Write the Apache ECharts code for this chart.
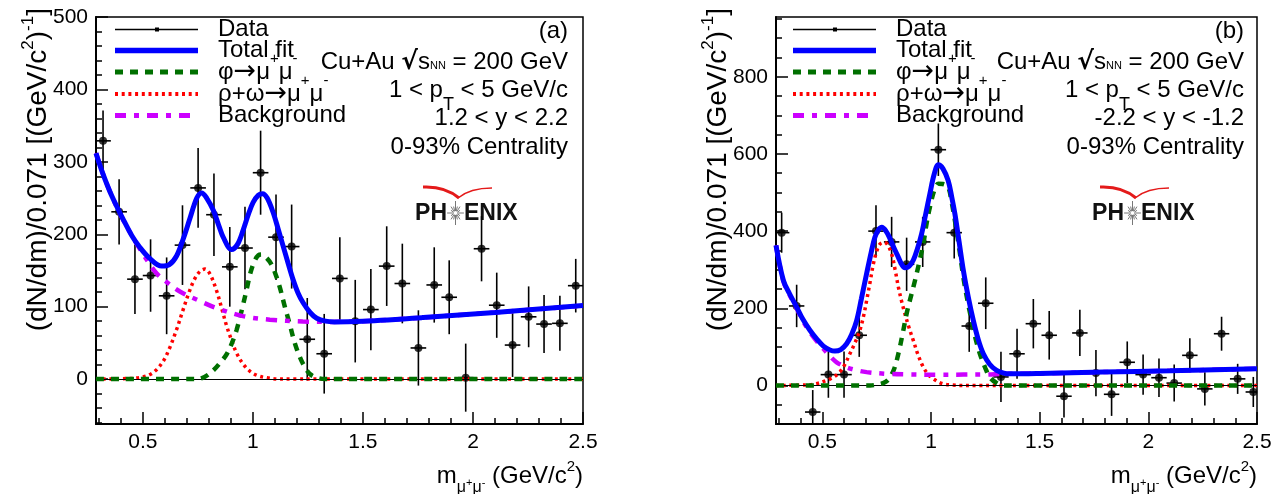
<!DOCTYPE html>
<html>
<head>
<meta charset="utf-8">
<script src="https://cdn.jsdelivr.net/npm/echarts@6/dist/echarts.min.js"></script>
<style>
  html, body { margin: 0; padding: 0; background: #fff; }
  #chart { width: 1287px; height: 494px; }
</style>
</head>
<body>
<div id="chart"></div>
<script>
const FONT = '"Liberation Sans", Arial, Helvetica, sans-serif';
const FONT_SYM = '"DejaVu Sans", "Liberation Sans", sans-serif';

// ---- axes ----
const X_MIN = 0.287, X_MAX = 2.5;
const X_MAJOR = [0.5, 1, 1.5, 2, 2.5];
const X_MINOR = [0.3, 0.4, 0.6, 0.7, 0.8, 0.9, 1.1, 1.2, 1.3, 1.4, 1.6, 1.7, 1.8, 1.9, 2.1, 2.2, 2.3, 2.4];

const LEFT_Y_MIN = -62, LEFT_Y_MAX = 500;
const LEFT_Y_MAJOR = [0, 100, 200, 300, 400, 500];
const LEFT_Y_MINOR = [-60, -40, -20, 20, 40, 60, 80, 120, 140, 160, 180, 220, 240, 260, 280, 320, 340, 360, 380, 420, 440, 460, 480];

const RIGHT_Y_MIN = -100, RIGHT_Y_MAX = 955;
const RIGHT_Y_MAJOR = [0, 200, 400, 600, 800];
const RIGHT_Y_MINOR = [-50, 50, 100, 150, 250, 300, 350, 450, 500, 550, 650, 700, 750, 850, 900, 950];

// half bin width used for the horizontal error bars
const BIN_HALF = 0.0355;

// ---- panel (a): 1.2 < y < 2.2 ----
const LEFT_MASS = [0.319, 0.392, 0.464, 0.535, 0.608, 0.680, 0.751, 0.823, 0.895, 0.964, 1.035, 1.105, 1.176, 1.247, 1.324, 1.395, 1.465, 1.536, 1.608, 1.679, 1.752, 1.824, 1.892, 1.967, 2.039, 2.108, 2.180, 2.253, 2.323, 2.395, 2.467];
const LEFT_COUNTS = [329, 231, 138, 143, 115, 185, 264, 227, 155, 181, 285, 196, 183, 55, 35, 139, 80, 96, 156, 132, 43, 130, 113, 2, 180, 102, 47, 86, 76, 77, 129];
const LEFT_ERR = [42, 45, 48, 50, 53, 55, 55, 57, 55, 57, 58, 59, 58, 57, 55, 57, 57, 56, 55, 55, 52, 52, 51, 47, 45, 45, 44, 42, 40, 38, 37];

const LEFT_TOTAL = [[0.287, 312], [0.319, 283], [0.36, 252], [0.41, 221], [0.45, 198], [0.486, 182], [0.53, 167], [0.585, 156], [0.62, 158], [0.653, 170], [0.685, 195], [0.714, 222], [0.745, 250], [0.767, 257], [0.79, 250], [0.82, 233], [0.845, 212], [0.865, 196], [0.903, 179], [0.93, 186], [0.956, 206], [0.98, 228], [1.001, 244], [1.025, 254], [1.044, 256], [1.065, 250], [1.092, 230], [1.115, 207], [1.138, 183], [1.16, 160], [1.183, 137], [1.205, 119], [1.229, 105], [1.26, 92], [1.29, 84], [1.33, 80], [1.37, 79], [1.5, 80], [1.774, 85], [2.1, 92], [2.5, 101.5]];
const LEFT_RHO = [[0.287, 0], [0.45, 1], [0.5, 3], [0.53, 6], [0.562, 13], [0.595, 26], [0.623, 44], [0.655, 70], [0.683, 96], [0.71, 120], [0.735, 138], [0.76, 149], [0.782, 152], [0.805, 145], [0.835, 122], [0.858, 98], [0.88, 74], [0.905, 52], [0.926, 36], [0.955, 21], [0.986, 11], [1.02, 5], [1.06, 2], [1.12, 0], [2.5, 0]];
const LEFT_PHI = [[0.287, 0], [0.74, 0], [0.78, 3], [0.82, 12], [0.85, 22], [0.88, 34], [0.905, 50], [0.926, 68], [0.95, 96], [0.971, 123], [0.99, 148], [1.009, 164], [1.025, 171], [1.04, 172], [1.06, 168], [1.085, 158], [1.105, 143], [1.123, 126], [1.145, 100], [1.168, 75], [1.19, 50], [1.214, 30], [1.237, 16], [1.259, 7], [1.29, 2], [1.33, 0], [2.5, 0]];
const LEFT_BKG = [[0.287, 312], [0.319, 283], [0.36, 252], [0.41, 220], [0.45, 198], [0.486, 180], [0.517, 165], [0.562, 146], [0.608, 134], [0.668, 121], [0.75, 109], [0.835, 98], [0.955, 87], [1.077, 82], [1.227, 79.5], [1.35, 79], [1.5, 80], [1.774, 85], [2.1, 92], [2.5, 101.5]];

// ---- panel (b): -2.2 < y < -1.2 ----
const RIGHT_MASS = [0.313, 0.382, 0.456, 0.528, 0.600, 0.670, 0.747, 0.819, 0.888, 0.962, 1.034, 1.107, 1.176, 1.252, 1.322, 1.396, 1.471, 1.544, 1.612, 1.685, 1.759, 1.831, 1.903, 1.976, 2.049, 2.119, 2.191, 2.260, 2.337, 2.411, 2.483];
const RIGHT_COUNTS = [396, 206, -69, 28, 28, 130, 400, 372, 314, 372, 611, 396, 154, 213, 22, 82, 160, 130, -28, 136, 32, -23, 60, 28, 20, 6, 78, -9, 134, 17, -17];
const RIGHT_ERR = [52, 55, 57, 60, 60, 56, 67, 65, 69, 65, 68, 67, 67, 67, 65, 65, 64, 63, 55, 60, 60, 56, 54, 52, 50, 48, 44, 43, 44, 39, 39];

const RIGHT_TOTAL = [[0.287, 363], [0.321, 272], [0.35, 237], [0.382, 203], [0.41, 172], [0.443, 143], [0.475, 120], [0.505, 102], [0.535, 92], [0.558, 89], [0.585, 93], [0.612, 108], [0.635, 132], [0.658, 168], [0.68, 225], [0.704, 290], [0.725, 345], [0.742, 384], [0.758, 403], [0.774, 410], [0.793, 400], [0.812, 380], [0.83, 356], [0.85, 332], [0.865, 314], [0.88, 305], [0.9, 309], [0.919, 325], [0.938, 355], [0.957, 393], [0.976, 445], [0.995, 497], [1.015, 548], [1.034, 572], [1.055, 562], [1.079, 531], [1.095, 490], [1.11, 445], [1.13, 370], [1.149, 298], [1.172, 228], [1.195, 168], [1.218, 118], [1.241, 82], [1.27, 55], [1.302, 39], [1.335, 32], [1.363, 30], [1.5, 31], [1.792, 34.5], [2.1, 38], [2.5, 43]];
const RIGHT_RHO = [[0.287, 0], [0.42, 1], [0.47, 4], [0.52, 13], [0.55, 21], [0.581, 35], [0.605, 56], [0.627, 82], [0.65, 110], [0.673, 143], [0.69, 180], [0.704, 220], [0.72, 268], [0.735, 315], [0.75, 347], [0.765, 366], [0.785, 371], [0.8, 365], [0.819, 341], [0.835, 300], [0.85, 255], [0.865, 218], [0.88, 186], [0.9, 148], [0.919, 116], [0.94, 80], [0.965, 47], [0.99, 27], [1.011, 17], [1.05, 5], [1.1, 1], [1.15, 0], [2.5, 0]];
const RIGHT_PHI = [[0.287, 0], [0.72, 0], [0.75, 2], [0.78, 6], [0.804, 15], [0.83, 42], [0.85, 82], [0.87, 135], [0.888, 186], [0.905, 225], [0.919, 255], [0.935, 292], [0.949, 326], [0.965, 368], [0.98, 420], [0.995, 462], [1.015, 505], [1.034, 523], [1.055, 522], [1.079, 514], [1.095, 475], [1.11, 428], [1.13, 355], [1.149, 280], [1.168, 220], [1.187, 168], [1.205, 122], [1.225, 82], [1.25, 45], [1.271, 21], [1.3, 7], [1.333, 0], [2.5, 0]];
const RIGHT_BKG = [[0.287, 363], [0.321, 270], [0.35, 234], [0.382, 200], [0.41, 168], [0.443, 138], [0.475, 114], [0.505, 95], [0.535, 76], [0.566, 60], [0.612, 47], [0.66, 39], [0.704, 34.5], [0.796, 30], [0.9, 28.5], [1.026, 27.7], [1.15, 28], [1.256, 28.5], [1.333, 30], [1.5, 31], [1.792, 34.5], [2.1, 38], [2.5, 43]];

// ---- text ----
const LEGEND_LABELS = [
  '{n|Data}',
  '{n|Total fit}',
  '{n|\u03c6}{ar|\u2192}{n|\u03bc}{sup|+}{n|\u03bc}{sup|-}',
  '{n|\u03c1+\u03c9}{ar|\u2192}{n|\u03bc}{sup|+}{n|\u03bc}{sup|-}',
  '{n|Background}'
];
const INFO_LEFT = ['{n|(a)}', '{n|Cu+Au }{sq|\u221a}{n|s}{nn|NN}{n| = 200 GeV}', '{n|1 < p}{sub|T}{n| < 5 GeV/c}', '{n|1.2 < y < 2.2}', '{n|0-93% Centrality}'];
const INFO_RIGHT = ['{n|(b)}', '{n|Cu+Au }{sq|\u221a}{n|s}{nn|NN}{n| = 200 GeV}', '{n|1 < p}{sub|T}{n| < 5 GeV/c}', '{n|-2.2 < y < -1.2}', '{n|0-93% Centrality}'];
const Y_TITLE = '{t|(dN/dm)/0.071 [(GeV/c}{ts|2}{t|)}{ts|-1}{t|]}';
const X_TITLE = '{x|m}{xs|\u03bc}{xss|+}{xs|\u03bc}{xss|-}{x| (GeV/c}{xsup|2}{x|)}';

const COLORS = { total: '#0000ff', phi: '#007000', rho: '#ff0000', bkg: '#cc00ff' };
const STYLES = {
  total: { width: 5, type: 'solid' },
  phi: { width: 4.5, type: [8, 7] },
  rho: { width: 3.5, type: [3, 3.7] },
  bkg: { width: 4.5, type: [11, 8, 5, 8] }
};

const RICH_TEXT = {
  n:   { fontSize: 24, fontFamily: FONT, lineHeight: 30 },
  ar:  { fontSize: 27, fontFamily: FONT_SYM, lineHeight: 30 },
  sup: { fontSize: 15, fontFamily: FONT, lineHeight: 30, padding: [0, 0, 26, 0] },
  sub: { fontSize: 18, fontFamily: FONT, lineHeight: 30, padding: [30, 0, 0, 0] },
  nn:  { fontSize: 11, fontFamily: FONT, lineHeight: 30, padding: [8, 0, 0, 0] },
  sq:  { fontSize: 25, fontFamily: FONT_SYM, fontWeight: 'bold', lineHeight: 30 }
};
const RICH_AXIS = {
  t:    { fontSize: 28, fontFamily: FONT, lineHeight: 34 },
  ts:   { fontSize: 17, fontFamily: FONT, lineHeight: 34, padding: [0, 0, 20, 0] },
  x:    { fontSize: 24, fontFamily: FONT, lineHeight: 30 },
  xs:   { fontSize: 16, fontFamily: FONT, lineHeight: 30, padding: [24, 0, 0, 0] },
  xss:  { fontSize: 11, fontFamily: FONT, lineHeight: 30, padding: [13, 0, 0, 0] },
  xsup: { fontSize: 15, fontFamily: FONT, lineHeight: 30, padding: [0, 0, 18, 0] }
};

// ---- layout of the two pads ----
const GRIDS = [
  { left: 96, top: 17, width: 487, height: 407 },
  { left: 776, top: 17, width: 481, height: 407 }
];

function makeAxes(gi, yMin, yMax, yMajor, yMinor) {
  const tick = { color: '#000', width: 1.5 };
  const xs = [
    { gridIndex: gi, type: 'value', position: 'bottom', min: X_MIN, max: X_MAX,
      axisLine: { show: true, onZero: false, lineStyle: { color: '#000', width: 2 } },
      axisTick: { show: true, inside: true, length: 12, customValues: X_MAJOR, lineStyle: tick },
      axisLabel: { show: true, customValues: X_MAJOR, color: '#000', fontSize: 21, fontFamily: FONT, margin: 8, formatter: v => String(v) },
      splitLine: { show: false } },
    { gridIndex: gi, type: 'value', position: 'bottom', min: X_MIN, max: X_MAX,
      axisLine: { show: false, onZero: false },
      axisTick: { show: true, inside: true, length: 6, customValues: X_MINOR, lineStyle: tick },
      axisLabel: { show: false }, splitLine: { show: false } }
  ];
  const ys = [
    { gridIndex: gi, type: 'value', position: 'left', min: yMin, max: yMax,
      axisLine: { show: true, onZero: false, lineStyle: { color: '#000', width: 2 } },
      axisTick: { show: true, inside: true, length: 12, customValues: yMajor, lineStyle: tick },
      axisLabel: { show: true, customValues: yMajor, color: '#000', fontSize: 21, fontFamily: FONT, margin: 8, formatter: v => String(v) },
      splitLine: { show: false } },
    { gridIndex: gi, type: 'value', position: 'left', min: yMin, max: yMax,
      axisLine: { show: false, onZero: false },
      axisTick: { show: true, inside: true, length: 6, customValues: yMinor, lineStyle: tick },
      axisLabel: { show: false }, splitLine: { show: false } }
  ];
  return { xs, ys };
}

function errorBars(params, api) {
  const m = api.value(0), c = api.value(1), e = api.value(2);
  const top = api.coord([m, c + e]);
  const bot = api.coord([m, c - e]);
  const lft = api.coord([m - BIN_HALF, c]);
  const rgt = api.coord([m + BIN_HALF, c]);
  const style = { stroke: '#000', lineWidth: 1.6 };
  return {
    type: 'group',
    children: [
      { type: 'line', shape: { x1: top[0], y1: top[1], x2: bot[0], y2: bot[1] }, style },
      { type: 'line', shape: { x1: lft[0], y1: lft[1], x2: rgt[0], y2: rgt[1] }, style }
    ]
  };
}

function curve(name, key, data, ax, z) {
  return {
    name, type: 'line', xAxisIndex: ax, yAxisIndex: ax, data,
    showSymbol: false, symbol: 'none', smooth: 0.35, z, silent: true,
    lineStyle: { color: COLORS[key], width: STYLES[key].width, type: STYLES[key].type, cap: 'butt' }
  };
}

function makeSeries(gi, mass, counts, err, total, rho, phi, bkg) {
  const ax = gi * 2;
  return [
    { name: 'Data', type: 'custom', xAxisIndex: ax, yAxisIndex: ax, clip: true, z: 2, silent: true,
      renderItem: errorBars, encode: { x: 0, y: 1 },
      data: mass.map((m, i) => [m, counts[i], err[i]]),
      markLine: { silent: true, symbol: ['none', 'none'], label: { show: false },
        lineStyle: { color: '#000', width: 1, type: 'solid' }, data: [{ yAxis: 0 }] } },
    { name: 'Data', type: 'scatter', xAxisIndex: ax, yAxisIndex: ax, z: 3, silent: true,
      symbol: 'circle', symbolSize: 8, itemStyle: { color: '#000' },
      data: mass.map((m, i) => [m, counts[i]]) },
    curve('\u03c1+\u03c9', 'rho', rho, ax, 4),
    curve('\u03c6', 'phi', phi, ax, 5),
    curve('Background', 'bkg', bkg, ax, 6),
    curve('Total fit', 'total', total, ax, 7)
  ];
}

function legendGraphics(dx) {
  const x1 = 115 + dx, x2 = 198 + dx, tx = 218 + dx;
  const rows = [29.5, 50.5, 72, 94, 115.5];
  const g = [];
  g.push({ type: 'line', shape: { x1, y1: rows[0], x2, y2: rows[0] }, style: { stroke: '#000', lineWidth: 1.5 } });
  g.push({ type: 'rect', shape: { x: 155 + dx, y: rows[0] - 2, width: 4, height: 4 }, style: { fill: '#000' } });
  ['total', 'phi', 'rho', 'bkg'].forEach((k, i) => {
    const y = rows[i + 1];
    const t = STYLES[k].type;
    g.push({ type: 'line', shape: { x1, y1: y, x2, y2: y },
      style: { stroke: COLORS[k], lineWidth: STYLES[k].width + 0.5, lineDash: Array.isArray(t) ? t : null } });
  });
  LEGEND_LABELS.forEach((txt, i) => {
    g.push({ type: 'text', x: tx, y: rows[i],
      style: { text: txt, rich: RICH_TEXT, fontSize: 24, fontFamily: FONT, fill: '#000',
        align: 'left', textAlign: 'left', verticalAlign: 'middle', textVerticalAlign: 'middle' } });
  });
  return g;
}

function infoGraphics(lines, xr) {
  const rows = [31, 62, 90, 118, 147];
  return lines.map((txt, i) => ({
    type: 'text', x: xr, y: rows[i],
    style: { text: txt, rich: RICH_TEXT, fontSize: 24, fontFamily: FONT, fill: '#000',
      align: 'right', textAlign: 'right', verticalAlign: 'middle', textVerticalAlign: 'middle' }
  }));
}

function logoGraphics(dx) {
  const cx = 455.5 + dx, cy = 213;
  const g = [];
  for (let k = 0; k < 16; k++) {
    const a = k * Math.PI / 8;
    const r = (k % 4 === 0) ? 12 : (k % 2 === 0 ? 9 : 7);
    g.push({ type: 'line',
      shape: { x1: cx + 2 * Math.cos(a), y1: cy + 2 * Math.sin(a), x2: cx + r * Math.cos(a) * 0.7, y2: cy + r * Math.sin(a) },
      style: { stroke: '#777', lineWidth: 1 } });
  }
  const txt = { fontSize: 23, fontWeight: 'bold', fontFamily: FONT, fill: '#111', verticalAlign: 'middle', textVerticalAlign: 'middle' };
  g.push({ type: 'text', x: 447 + dx, y: cy + 1, style: Object.assign({ text: 'PH', align: 'right', textAlign: 'right' }, txt) });
  g.push({ type: 'text', x: 464 + dx, y: cy + 1, style: Object.assign({ text: 'ENIX', align: 'left', textAlign: 'left' }, txt) });
  g.push({ type: 'bezierCurve', shape: { x1: 423 + dx, y1: 187, cpx1: 445 + dx, cpy1: 186, x2: 459 + dx, y2: 198 },
    style: { stroke: '#e41a1a', lineWidth: 3, fill: null } });
  g.push({ type: 'bezierCurve', shape: { x1: 458 + dx, y1: 198, cpx1: 470 + dx, cpy1: 188, x2: 492 + dx, y2: 188 },
    style: { stroke: '#e41a1a', lineWidth: 1.5, fill: null } });
  return g;
}

function axisTitleGraphics(dx, xr) {
  return [
    { type: 'text', x: 38 + dx, y: 8, rotation: Math.PI / 2,
      style: { text: Y_TITLE, rich: RICH_AXIS, fontSize: 28, fontFamily: FONT, fill: '#000',
        align: 'right', textAlign: 'right', verticalAlign: 'middle', textVerticalAlign: 'middle' } },
    { type: 'text', x: xr, y: 476,
      style: { text: X_TITLE, rich: RICH_AXIS, fontSize: 24, fontFamily: FONT, fill: '#000',
        align: 'right', textAlign: 'right', verticalAlign: 'middle', textVerticalAlign: 'middle' } }
  ];
}

const axesL = makeAxes(0, LEFT_Y_MIN, LEFT_Y_MAX, LEFT_Y_MAJOR, LEFT_Y_MINOR);
const axesR = makeAxes(1, RIGHT_Y_MIN, RIGHT_Y_MAX, RIGHT_Y_MAJOR, RIGHT_Y_MINOR);

const option = {
  animation: false,
  backgroundColor: '#fff',
  grid: GRIDS.map(g => Object.assign({ show: true, borderColor: '#000', borderWidth: 1.5, backgroundColor: 'transparent', containLabel: false, outerBoundsMode: 'none' }, g)),
  xAxis: axesL.xs.concat(axesR.xs),
  yAxis: axesL.ys.concat(axesR.ys),
  series: makeSeries(0, LEFT_MASS, LEFT_COUNTS, LEFT_ERR, LEFT_TOTAL, LEFT_RHO, LEFT_PHI, LEFT_BKG)
    .concat(makeSeries(1, RIGHT_MASS, RIGHT_COUNTS, RIGHT_ERR, RIGHT_TOTAL, RIGHT_RHO, RIGHT_PHI, RIGHT_BKG)),
  graphic: { elements: [].concat(
    legendGraphics(0), legendGraphics(678),
    infoGraphics(INFO_LEFT, 568), infoGraphics(INFO_RIGHT, 1244),
    logoGraphics(0), logoGraphics(677),
    axisTitleGraphics(0, 583), axisTitleGraphics(680, 1257)
  ) }
};

const chart = echarts.init(document.getElementById('chart'));
chart.setOption(option);
</script>
</body>
</html>
